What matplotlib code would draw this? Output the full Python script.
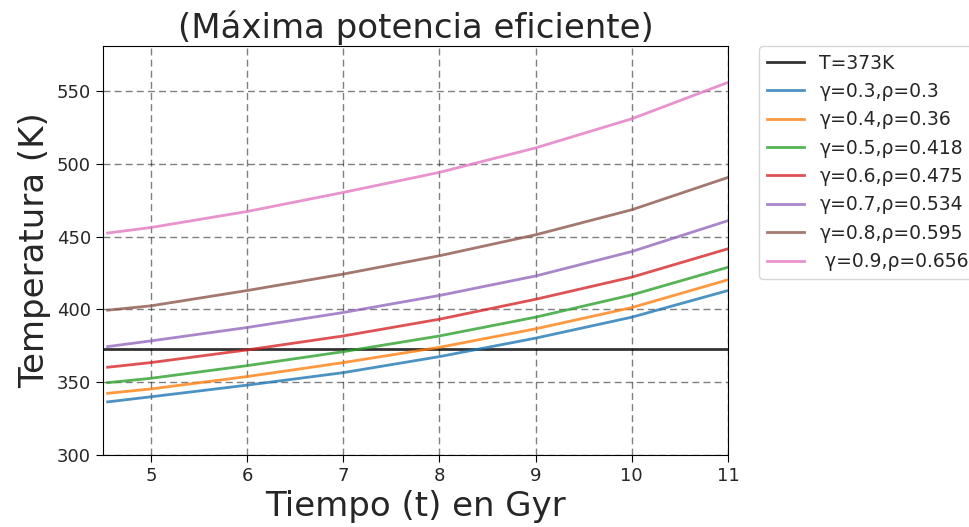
import matplotlib
matplotlib.use("Agg")
import matplotlib.pyplot as plt

# Time in Gyr
t = [4.55, 5, 6, 7, 8, 9, 10, 11]

labels = ["γ=0.3,ρ=0.3", "γ=0.4,ρ=0.36", "γ=0.5,ρ=0.418", "γ=0.6,ρ=0.475",
          "γ=0.7,ρ=0.534", "γ=0.8,ρ=0.595", " γ=0.9,ρ=0.656"]

T_g03 = [336.5, 340.0, 348.0, 356.6, 367.6, 380.3, 394.7, 413.0]
T_g04 = [342.4, 345.4, 353.9, 363.5, 374.0, 386.7, 401.3, 420.4]
T_g05 = [349.7, 352.7, 361.4, 371.0, 381.8, 394.7, 410.0, 429.0]
T_g06 = [360.3, 363.5, 372.2, 381.8, 393.3, 407.0, 422.2, 441.7]
T_g07 = [374.5, 378.4, 387.6, 397.9, 409.6, 423.0, 439.8, 461.0]
T_g08 = [399.5, 402.5, 413.0, 424.3, 436.9, 451.3, 468.5, 490.7]
T_g09 = [452.5, 456.3, 467.3, 480.4, 494.2, 511.0, 531.0, 556.0]

T_ref = 373
colors = ["tab:blue", "tab:orange", "tab:green", "tab:red",
          "tab:purple", "tab:brown", "tab:pink"]

fig = plt.figure(figsize=(9.7, 5.27), dpi=100)
ax = fig.add_axes([0.106, 0.1366, 0.6445, 0.7761])

ax.axhline(T_ref, color="black", alpha=0.8, lw=2, label="T=373K")
for series, c, lab in zip([T_g03, T_g04, T_g05, T_g06, T_g07, T_g08, T_g09],
                          colors, labels):
    ax.plot(t, series, color=c, alpha=0.8, lw=2, label=lab)

ax.set_xlim(4.5, 11)
ax.set_ylim(300, 581)
ax.set_yticks([300, 350, 400, 450, 500, 550])
ax.set_xticks([5, 6, 7, 8, 9, 10, 11])
ax.tick_params(labelsize=13, labelcolor="#262626", length=5)
ax.grid(True, color="black", alpha=0.5, linestyle=(0, (5, 3)), lw=1)

ax.set_title("(Máxima potencia eficiente)", fontsize=24.5, color="#262626")
ax.set_xlabel("Tiempo (t) en Gyr", fontsize=24.5, color="#262626")
ax.set_ylabel("Temperatura (K)", fontsize=24.5, color="#262626")

leg = ax.legend(loc="upper left", bbox_to_anchor=(1.05, 1.0), fontsize=13.5,
                handlelength=2.0, borderaxespad=0)
for txt in leg.get_texts():
    txt.set_color("#262626")

fig.savefig("out.png", dpi=100)
